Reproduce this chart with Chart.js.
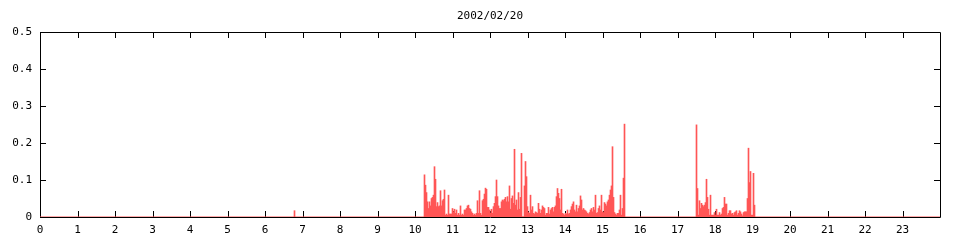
<!DOCTYPE html>
<html>
<head>
<meta charset="utf-8">
<script src="https://cdn.jsdelivr.net/npm/chart.js@4"></script>
<style>
  html, body { margin: 0; padding: 0; background: #fff; }
  #wrap { width: 960px; height: 240px; }
</style>
</head>
<body>
<div id="wrap"><canvas id="chart" width="960" height="240"></canvas></div>
<script>
// 2002/02/20 — one sample every 96 s
const title = '2002/02/20'
const sampleSec = 96
const xTicks = [0, 1, 2, 3, 4, 5, 6, 7, 8, 9, 10, 11, 12, 13, 14, 15, 16, 17, 18, 19, 20, 21, 22, 23]
const yTicks = [0, 0.1, 0.2, 0.3, 0.4, 0.5]

// lone blip before noon
const blipStartSec = 24432
const blipValues = [0.017]

// morning / afternoon burst
const burst1StartSec = 36912
const burst1Values = [
  0.114, 0.086, 0.066, 0.041, 0.023, 0.041, 0.030, 0.050, 0.053, 0.059,
  0.136, 0.102, 0.028, 0.039, 0.028, 0.030, 0.071, 0.030, 0.044, 0.048,
  0.073, 0.005, 0.008, 0.005, 0.059, 0.008, 0.008, 0.008, 0.023, 0.014,
  0.021, 0.010, 0.019, 0.005, 0.010, 0.005, 0.030, 0.005, 0.008, 0.005,
  0.019, 0.019, 0.023, 0.030, 0.032, 0.023, 0.021, 0.014, 0.010, 0.005,
  0.008, 0.005, 0.010, 0.044, 0.010, 0.071, 0.010, 0.005, 0.044, 0.048,
  0.062, 0.078, 0.075, 0.026, 0.026, 0.019, 0.010, 0.021, 0.010, 0.028,
  0.037, 0.055, 0.100, 0.055, 0.030, 0.023, 0.023, 0.041, 0.046, 0.044,
  0.048, 0.053, 0.041, 0.055, 0.041, 0.084, 0.021, 0.050, 0.057, 0.037,
  0.183, 0.032, 0.046, 0.019, 0.066, 0.021, 0.053, 0.172, 0, 0,
  0.084, 0.150, 0.109, 0.028, 0.012, 0.010, 0.059, 0.019, 0.028, 0.010,
  0.008, 0.014, 0.012, 0.010, 0.037, 0.021, 0.010, 0.019, 0.030, 0.026,
  0.023, 0.005, 0.010, 0.010, 0.026, 0.008, 0.019, 0.023, 0.026, 0.014,
  0.026, 0.030, 0.055, 0.077, 0.064, 0.050, 0.019, 0.075, 0.010, 0.008,
  0.005, 0.010, 0.008, 0.019, 0.008, 0.010, 0.019, 0.028, 0.035, 0.041,
  0.019, 0.014, 0.032, 0.014, 0.023, 0.030, 0.057, 0.046, 0.019, 0.023,
  0.019, 0.017, 0.014, 0.010, 0.008, 0.012, 0.019, 0.023, 0.014, 0.026,
  0.019, 0.059, 0.010, 0.012, 0.023, 0.030, 0.019, 0.059, 0.014, 0.012,
  0.039, 0.035, 0.030, 0.041, 0.046, 0.059, 0.073, 0.084, 0.190, 0.053,
  0.012, 0.008, 0.005, 0.010, 0.010, 0.019, 0.059, 0.005, 0.023, 0.105,
  0.251
]

// evening burst
const burst2StartSec = 63024
const burst2Values = [
  0.249, 0.077, 0.005, 0.044, 0.023, 0.037, 0.032, 0.028, 0.032, 0.039,
  0.102, 0.053, 0.021, 0.005, 0.059, 0.005, 0.005, 0.005, 0.012, 0.005,
  0.021, 0.005, 0.005, 0.012, 0.005, 0.008, 0.023, 0.026, 0.053, 0.035,
  0.035, 0.005, 0.010, 0.017, 0.017, 0.008, 0.010, 0.005, 0.012, 0.014,
  0.017, 0.005, 0.010, 0.017, 0.014, 0.008, 0.003, 0.012, 0.014, 0.014,
  0.014, 0.050, 0.186, 0.093, 0.123, 0.005, 0.005, 0.118, 0.032
]

const RED = '#ff5555'
const FONT = { family: '"DejaVu Sans Mono", monospace', size: 11 }

function toPoints(startSec, values) {
  return values.map((v, i) => ({ x: (startSec + i * sampleSec) / 3600, y: v }))
}

const samples = [
  ...toPoints(blipStartSec, blipValues),
  ...toPoints(burst1StartSec, burst1Values),
  ...toPoints(burst2StartSec, burst2Values),
]

// gnuplot-ish frame: black box with inward ticks, title over the plot centre
const frame = {
  id: 'frame',
  beforeDatasetsDraw(chart) {
    const { ctx, chartArea: a, scales: { x, y } } = chart
    ctx.save()
    ctx.strokeStyle = '#000'
    ctx.lineWidth = 1
    ctx.beginPath()
    ctx.rect(a.left + 0.5, a.top + 0.5, a.right - a.left, a.bottom - a.top)
    xTicks.forEach(v => {
      const px = Math.round(x.getPixelForValue(v)) + 0.5
      ctx.moveTo(px, a.bottom); ctx.lineTo(px, a.bottom - 6)
      ctx.moveTo(px, a.top); ctx.lineTo(px, a.top + 6)
    })
    yTicks.forEach(v => {
      const py = Math.round(y.getPixelForValue(v)) + 0.5
      ctx.moveTo(a.left, py); ctx.lineTo(a.left + 6, py)
      ctx.moveTo(a.right, py); ctx.lineTo(a.right - 6, py)
    })
    ctx.stroke()
    ctx.fillStyle = '#000'
    ctx.font = `${FONT.size}px ${FONT.family}`
    ctx.textAlign = 'center'
    ctx.textBaseline = 'middle'
    ctx.fillText(title, (a.left + a.right) / 2, 16)
    ctx.restore()
  },
}

new Chart(document.getElementById('chart'), {
  data: {
    datasets: [
      {
        type: 'line',
        data: [{ x: 0, y: 0 }, { x: 24, y: 0 }],
        borderColor: RED,
        borderWidth: 1,
        pointRadius: 0,
        order: 0,
      },
      {
        type: 'bar',
        data: samples,
        backgroundColor: RED,
        borderWidth: 0,
        barThickness: 1,
        order: 1,
      },
    ],
  },
  options: {
    responsive: false,
    animation: false,
    events: [],
    layout: { padding: { left: 0, right: 20, top: 32, bottom: 0 } },
    plugins: { legend: { display: false }, tooltip: { enabled: false } },
    scales: {
      x: {
        type: 'linear',
        min: 0,
        max: 24,
        offset: false,
        afterBuildTicks: s => { s.ticks = xTicks.map(v => ({ value: v })) },
        afterFit: s => { s.height = 23 },
        ticks: { color: '#000', font: FONT, padding: 7, maxRotation: 0, autoSkip: false },
        grid: { display: false, drawTicks: false },
        border: { display: false },
      },
      y: {
        min: 0,
        max: 0.5,
        afterBuildTicks: s => { s.ticks = yTicks.map(v => ({ value: v })) },
        afterFit: s => { s.width = 40 },
        ticks: {
          color: '#000', font: FONT, padding: 8,
          callback: v => (v === 0 ? '0' : v.toFixed(1)),
        },
        grid: { display: false, drawTicks: false },
        border: { display: false },
      },
    },
  },
  plugins: [frame],
})
</script>
</body>
</html>
